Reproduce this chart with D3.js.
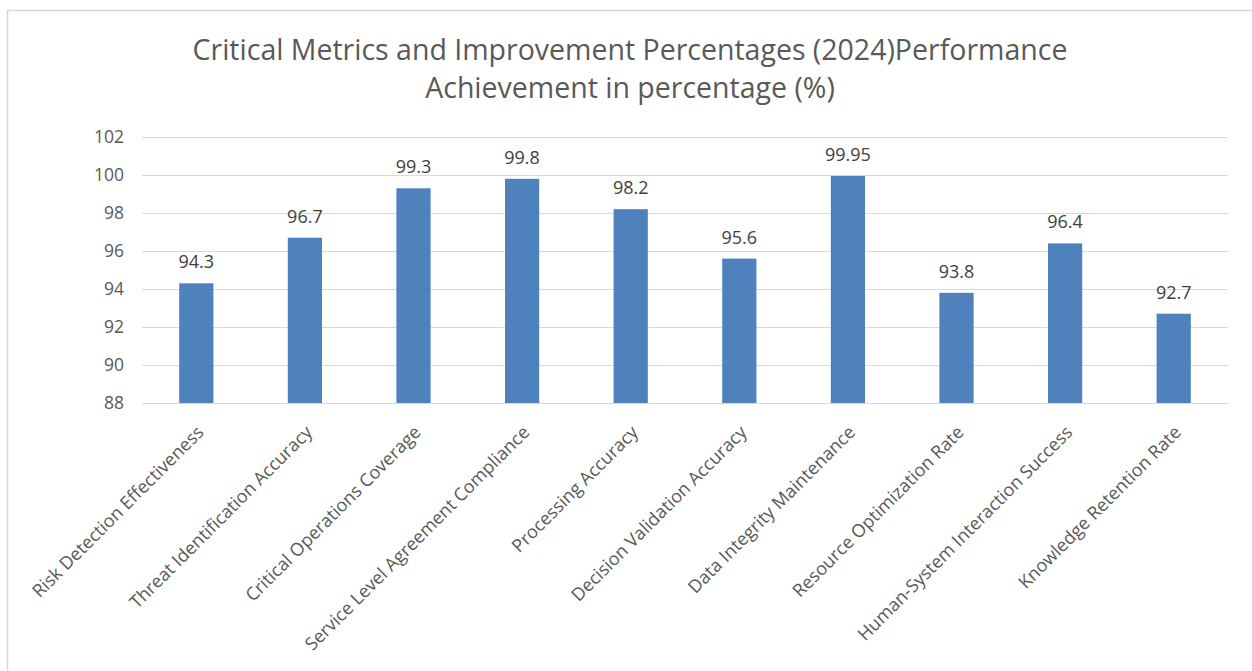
<!DOCTYPE html>
<html>
<head>
<meta charset="utf-8">
<script src="https://cdn.jsdelivr.net/npm/d3@7"></script>
<style>
  body { margin: 0; background: #fff; }
</style>
</head>
<body>
<div id="chart"></div>
<script>
// 数据
var categories = [
	"Risk Detection Effectiveness",
	"Threat Identification Accuracy",
	"Critical Operations Coverage",
	"Service Level Agreement Compliance",
	"Processing Accuracy",
	"Decision Validation Accuracy",
	"Data Integrity Maintenance",
	"Resource Optimization Rate",
	"Human-System Interaction Success",
	"Knowledge Retention Rate"
];
var values = [94.3, 96.7, 99.3, 99.8, 98.2, 95.6, 99.95, 93.8, 96.4, 92.7];
var valueLabels = ["94.3", "96.7", "99.3", "99.8", "98.2", "95.6", "99.95", "93.8", "96.4", "92.7"];
var yTicks = [88, 90, 92, 94, 96, 98, 100, 102];
var titleLines = [
	"Critical Metrics and Improvement Percentages (2024)Performance",
	"Achievement in percentage (%)"
];

drawChart()

function drawChart() {
	var W = 1252, H = 671;
	var margin = { top: 137, right: 24, bottom: 268, left: 142 };
	var font = "'Open Sans', 'Noto Sans', sans-serif";

	var svg = d3.select("#chart").append("svg")
		.attr("width", W)
		.attr("height", H);

	// 外框
	svg.append("rect")
		.attr("x", 7.5).attr("y", 10.5)
		.attr("width", W + 10).attr("height", H + 10)
		.attr("fill", "none")
		.attr("stroke", "#d9d9d9")
		.attr("stroke-width", 1.5);

	var x = d3.scaleBand()
		.domain(categories)
		.range([margin.left, W - margin.right])
		.paddingInner(0.685)
		.paddingOuter(0.3425);

	var y = d3.scaleLinear()
		.domain([88, 102])
		.range([H - margin.bottom, margin.top]);

	// 网格线
	svg.append("g")
		.selectAll("line")
		.data(yTicks)
		.join("line")
		.attr("x1", margin.left).attr("x2", W - margin.right)
		.attr("y1", d => y(d) + 0.5).attr("y2", d => y(d) + 0.5)
		.attr("stroke", "#d9d9d9")
		.attr("stroke-width", 1);

	// y 轴
	var yAxis = svg.append("g")
		.attr("transform", `translate(${margin.left - 18},0)`)
		.call(d3.axisLeft(y).tickValues(yTicks).tickSize(0).tickPadding(0));
	yAxis.select(".domain").remove();
	yAxis.selectAll("text")
		.style("font-family", font)
		.style("font-size", "17.5px")
		.attr("fill", "#595959");

	// 柱子
	svg.append("g")
		.selectAll("rect")
		.data(values)
		.join("rect")
		.attr("x", (d, i) => x(categories[i]))
		.attr("y", d => y(d))
		.attr("width", x.bandwidth())
		.attr("height", d => y(88) - y(d))
		.attr("fill", "#4f81bd");

	// 数据标签
	svg.append("g")
		.selectAll("text")
		.data(values)
		.join("text")
		.attr("x", (d, i) => x(categories[i]) + x.bandwidth() / 2)
		.attr("y", d => y(d) - 15)
		.attr("text-anchor", "middle")
		.style("font-family", font)
		.style("font-size", "18px")
		.attr("fill", "#404040")
		.text((d, i) => valueLabels[i]);

	// x 轴标签 (旋转 -45)
	var xAxis = svg.append("g")
		.attr("transform", `translate(0,${H - margin.bottom})`)
		.call(d3.axisBottom(x).tickSize(0).tickPadding(0));
	xAxis.select(".domain").remove();
	xAxis.selectAll("text")
		.style("font-family", font)
		.style("font-size", "18px")
		.attr("fill", "#595959")
		.attr("text-anchor", "end")
		.attr("dy", "0.35em")
		.attr("transform", "translate(4,26) rotate(-45)");

	// 标题
	svg.append("g")
		.selectAll("text")
		.data(titleLines)
		.join("text")
		.attr("x", 630)
		.attr("y", (d, i) => 60 + i * 38)
		.attr("text-anchor", "middle")
		.style("font-family", font)
		.style("font-size", "28.5px")
		.attr("fill", "#595959")
		.text(d => d);
}
</script>
</body>
</html>
